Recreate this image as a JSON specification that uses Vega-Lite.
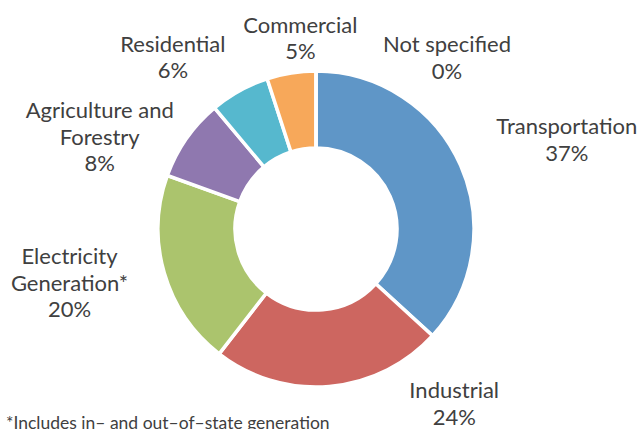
{
  "$schema": "https://vega.github.io/schema/vega-lite/v6.json",
  "autosize": "none",
  "width": 632,
  "height": 380,
  "padding": {"left": 0, "top": 39, "right": 10, "bottom": 10},
  "background": "white",
  "config": {"view": {"stroke": null}},
  "title": {
    "text": "*Includes in\u2013 and out\u2013of\u2013state generation",
    "orient": "bottom",
    "anchor": "start",
    "frame": "group",
    "dx": 6,
    "offset": 0,
    "baseline": "alphabetic",
    "font": "Lato",
    "fontSize": 17.5,
    "fontWeight": "normal",
    "color": "#404040"
  },
  "data": {
    "values": [
      {"idx": 1, "cat": "Transportation", "value": 36.8, "label": "Transportation\n37%"},
      {"idx": 2, "cat": "Industrial", "value": 23.7, "label": "Industrial\n24%"},
      {"idx": 3, "cat": "Electricity Generation*", "value": 20.0, "label": "Electricity\nGeneration*\n20%"},
      {"idx": 4, "cat": "Agriculture and Forestry", "value": 8.4, "label": "Agriculture and\nForestry\n8%"},
      {"idx": 5, "cat": "Residential", "value": 6.1, "label": "Residential\n6%"},
      {"idx": 6, "cat": "Commercial", "value": 5.0, "label": "Commercial\n5%"},
      {"idx": 7, "cat": "Not specified", "value": 0, "label": "Not specified\n0%"}
    ]
  },
  "layer": [
    {
      "mark": {"type": "arc", "outerRadius": 158, "innerRadius": 81, "stroke": "white", "strokeWidth": 3.5},
      "encoding": {
        "theta": {"field": "value", "type": "quantitative", "stack": true},
        "order": {"field": "idx", "type": "quantitative"},
        "color": {
          "field": "cat",
          "type": "nominal",
          "legend": null,
          "scale": {
            "domain": ["Transportation", "Industrial", "Electricity Generation*", "Agriculture and Forestry", "Residential", "Commercial", "Not specified"],
            "range": ["#5F96C7", "#CD6660", "#ABC46D", "#8F78AF", "#56B8CE", "#F7A85A", "#A5A5A5"]
          }
        }
      }
    },
    {
      "mark": {
        "type": "text",
        "radius": 215,
        "align": "center",
        "baseline": "middle",
        "lineBreak": "\n",
        "lineHeight": 26.5,
        "font": "Lato",
        "fontSize": 22,
        "fill": "#404040",
        "dx": {"expr": "datum.cat === 'Transportation' ? 54 : datum.cat === 'Industrial' ? 120 : datum.cat === 'Electricity Generation*' ? -40 : datum.cat === 'Agriculture and Forestry' ? -40 : datum.cat === 'Residential' ? -39 : datum.cat === 'Commercial' ? 18 : 131"},
        "dy": {"expr": "datum.cat === 'Transportation' ? -15 : datum.cat === 'Industrial' ? -52 : datum.cat === 'Electricity Generation*' ? -31.5 : datum.cat === 'Agriculture and Forestry' ? 5.5 : datum.cat === 'Residential' ? 4 : datum.cat === 'Commercial' ? 9 : 31"}
      },
      "encoding": {
        "theta": {"field": "value", "type": "quantitative", "stack": true},
        "order": {"field": "idx", "type": "quantitative"},
        "detail": {"field": "cat", "type": "nominal"},
        "text": {"field": "label", "type": "nominal"}
      }
    }
  ]
}
